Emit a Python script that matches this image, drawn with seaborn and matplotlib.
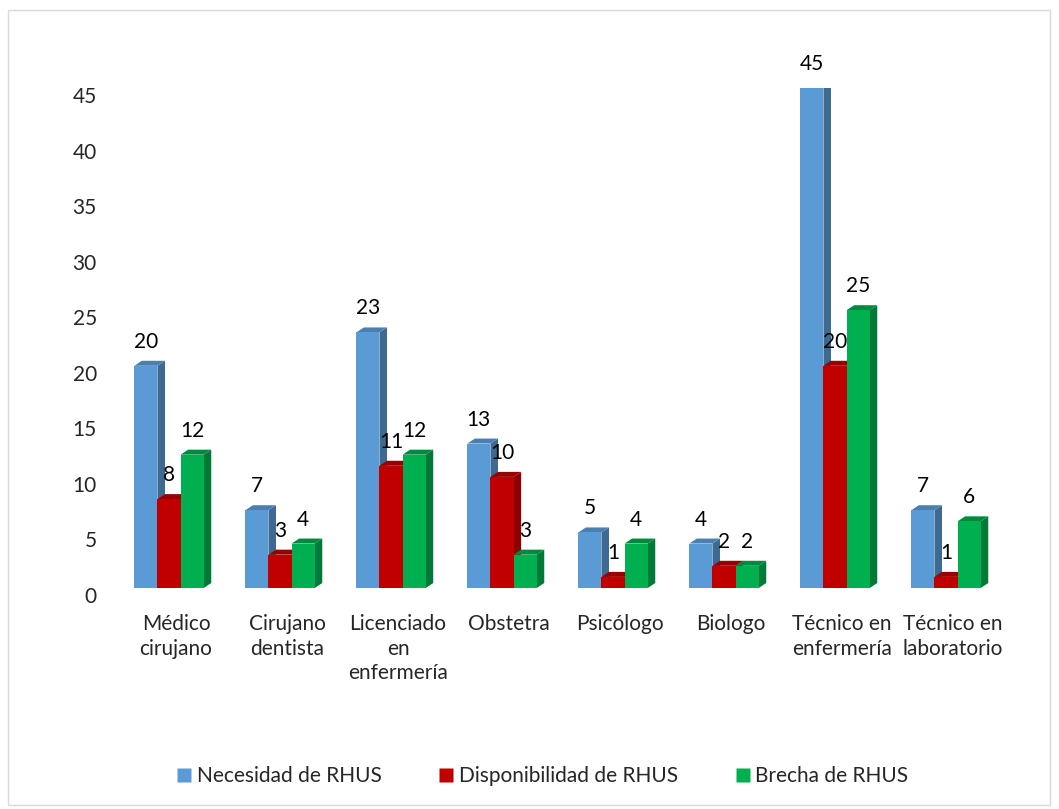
import matplotlib
matplotlib.use("Agg")
import matplotlib.pyplot as plt
import matplotlib.transforms as mtransforms
from matplotlib.patches import Polygon, Rectangle
from matplotlib.lines import Line2D
import seaborn as sns
import pandas as pd

categories = ["Médico\ncirujano", "Cirujano\ndentista", "Licenciado\nen\nenfermería", "Obstetra",
              "Psicólogo", "Biologo", "Técnico en\nenfermería", "Técnico en\nlaboratorio"]
series = ["Necesidad de RHUS", "Disponibilidad de RHUS", "Brecha de RHUS"]
necesidad = [20, 7, 23, 13, 5, 4, 45, 7]
disponibilidad = [8, 3, 11, 10, 1, 2, 20, 1]
brecha = [12, 4, 12, 3, 4, 2, 25, 6]
yticks = [0, 5, 10, 15, 20, 25, 30, 35, 40, 45]

front = ["#5B9BD5", "#C00000", "#00B050"]
side = ["#3E6A92", "#8E0000", "#007A36"]
top = ["#4A7FB0", "#9A0000", "#008A3E"]

df = pd.DataFrame({
    "cat": categories * 3,
    "serie": [s for s in series for _ in categories],
    "val": necesidad + disponibilidad + brecha,
})

sns.set_theme(style="white")
plt.rcParams["font.family"] = ["Lato", "DejaVu Sans"]
FS = 15

W, H = 1059, 809
fig = plt.figure(figsize=(W / 100, H / 100), dpi=100)
left, right = 120.5, 1008.5
ybot, ytop = 588, 88
ax = fig.add_axes([left / W, (H - ybot) / H, (right - left) / W, (ybot - ytop) / H])

sns.barplot(data=df, x="cat", y="val", hue="serie", palette=front, width=0.625,
            saturation=1, legend=False, ax=ax, order=categories, hue_order=series, errorbar=None)

ax.set_xlim(-0.5, len(categories) - 0.5)
ax.set_ylim(0, 45)
ax.set_ylabel("")
ax.set_xlabel("")
for s in ax.spines.values():
    s.set_visible(False)

shift = -0.063
dx = 0.068
dy = 0.45
bars = [p for p in ax.patches if isinstance(p, Rectangle)]
for i, p in enumerate(bars):
    si = i // len(categories)
    p.set_x(p.get_x() + shift)
    p.set_edgecolor("none")
    p.set_zorder(3)
    x0 = p.get_x()
    x1 = x0 + p.get_width()
    h = p.get_height()
    sidep = Polygon([(x1, 0), (x1, h), (x1 + dx, h + dy), (x1 + dx, dy)], closed=True,
                    facecolor=side[si], edgecolor="none", zorder=2)
    topp = Polygon([(x0, h), (x1, h), (x1 + dx, h + dy), (x0 + dx, h + dy)], closed=True,
                   facecolor=top[si], edgecolor="none", zorder=2)
    ax.add_patch(sidep)
    ax.add_patch(topp)
    ax.text((x0 + x1) / 2, h, f"{h:.0f}", ha="center", va="center", fontsize=FS,
            color="black", zorder=5,
            transform=ax.transData + mtransforms.ScaledTranslation(0, 0.24, fig.dpi_scale_trans))

ax.set_yticks(yticks)
ax.set_yticklabels([str(t) for t in yticks], fontsize=FS)
ax.tick_params(axis="y", length=0, pad=17)
ax.tick_params(axis="x", length=0, pad=19, labelsize=FS)
ax.set_xticks(range(len(categories)))
ax.set_xticklabels(categories, linespacing=1.28, va="top")
for lbl in ax.get_yticklabels():
    lbl.set_transform(lbl.get_transform() + mtransforms.ScaledTranslation(0, -0.07, fig.dpi_scale_trans))

handles = [Line2D([0], [0], marker="s", linestyle="none", markersize=10,
                  markerfacecolor=c, markeredgecolor="none") for c in front]
fig.legend(handles, series, loc="center", bbox_to_anchor=(0.513, 1 - 776 / H), ncol=3,
           frameon=False, fontsize=FS, handlelength=0.6, handletextpad=0.3, columnspacing=2.8)

fig.patches.append(Rectangle((8 / W, 1 - 805 / H), (1050 - 8) / W, (805 - 10) / H,
                             transform=fig.transFigure, fill=False, edgecolor="#D9D9D9", linewidth=1))

fig.savefig("out.png", dpi=100)
